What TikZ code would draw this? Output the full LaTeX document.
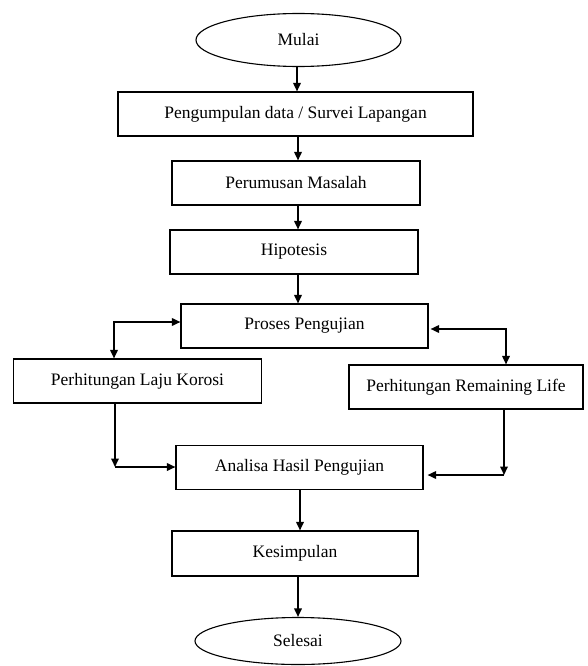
\documentclass[tikz,border=0pt]{standalone}
\usepackage{fontspec}
\setmainfont{Liberation Serif}
\usetikzlibrary{shapes.geometric,arrows.meta}
\begin{document}
\begin{tikzpicture}[x=1pt,y=-1pt,
  font=\fontsize{17.5}{20}\selectfont,
  box/.style={draw,line width=1.1pt,rectangle,inner sep=0pt,minimum height=44pt},
  term/.style={draw,line width=1.1pt,ellipse,inner sep=0pt},
  arr/.style={line width=1.7pt,-{Triangle[length=8.5pt,width=7.5pt]}},
  darr/.style={line width=1.7pt,{Triangle[length=8.5pt,width=7.5pt]}-{Triangle[length=8.5pt,width=7.5pt]}}]
\useasboundingbox (0,0) rectangle (587,666);
\node[term,minimum width=205pt,minimum height=53pt] (mulai) at (298.5,40) {Mulai};
\node[box,minimum width=355pt] (b1) at (295.5,114) {Pengumpulan data / Survei Lapangan};
\node[box,minimum width=248pt] (b2) at (296,183) {Perumusan Masalah};
\node[box,minimum width=248pt] (b3) at (294,252) {Hipotesis};
\node[box,minimum width=247pt] (b4) at (304.5,326) {Proses Pengujian};
\node[box,minimum width=248pt] (b5) at (137.5,381) {Perhitungan Laju Korosi};
\node[box,minimum width=234pt] (b6) at (466,387) {Perhitungan Remaining Life};
\node[box,minimum width=247pt] (b7) at (299.5,467.5) {Analisa Hasil Pengujian};
\node[box,minimum width=246pt,minimum height=45pt] (b8) at (295,553.5) {Kesimpulan};
\node[term,minimum width=206pt,minimum height=47pt] (sel) at (298,641) {Selesai};
\coordinate (c0) at (297,0);
\coordinate (c1) at (298,0);
\coordinate (c2) at (300,0);
\coordinate (cl) at (114,322);
\coordinate (cr) at (506,329);
\coordinate (cl2) at (115,467);
\coordinate (cr2) at (504,475);
\draw[arr] (c0 |- mulai.south) -- (c0 |- b1.north);
\draw[arr] (c1 |- b1.south) -- (c1 |- b2.north);
\draw[arr] (c1 |- b2.south) -- (c1 |- b3.north);
\draw[arr] (c1 |- b3.south) -- (c1 |- b4.north);
\draw[darr] (b4.west |- cl) -- (cl) -- (cl |- b5.north);
\draw[darr] ([xshift=2pt]b4.east |- cr) -- (cr) -- (cr |- b6.north);
\draw[arr] (cl2 |- b5.south) -- (cl2);
\draw[arr] (cl2) -- (b7.west |- cl2);
\draw[arr] (cr2 |- b6.south) -- (cr2);
\draw[arr] (cr2) -- ([xshift=4pt]b7.east |- cr2);
\draw[arr] (c2 |- b7.south) -- (c2 |- b8.north);
\draw[arr] (c1 |- b8.south) -- (c1 |- sel.north);
\end{tikzpicture}
\end{document}
